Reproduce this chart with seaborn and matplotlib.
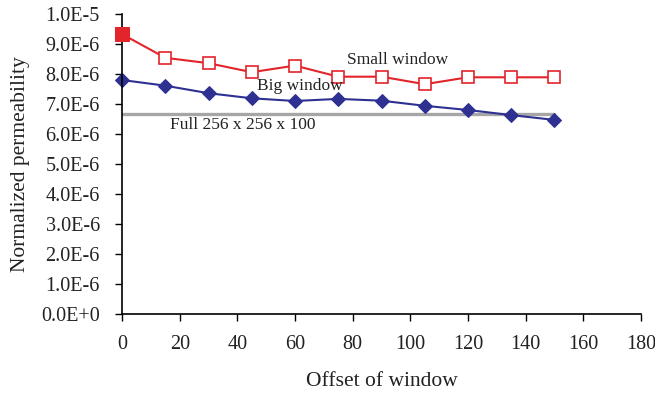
import matplotlib
matplotlib.use("Agg")
import matplotlib.pyplot as plt
from matplotlib.ticker import FuncFormatter, MultipleLocator
import seaborn as sns
import pandas as pd

# Window offsets and normalized permeability for each window size
offsets = [0, 15, 30, 45, 60, 75, 90, 105, 120, 135, 150]
small_window = [9.33e-6, 8.54e-6, 8.36e-6, 8.06e-6, 8.28e-6, 7.91e-6,
                7.91e-6, 7.66e-6, 7.89e-6, 7.89e-6, 7.89e-6]
big_window = [7.80e-6, 7.61e-6, 7.36e-6, 7.19e-6, 7.10e-6, 7.17e-6,
              7.11e-6, 6.94e-6, 6.80e-6, 6.63e-6, 6.47e-6]
full_value = 6.67e-6
full_span = [0, 150]

red = "#E2242B"
blue = "#2E3192"
grey = "#A6A6A6"
ink = "#222222"

sns.set_style("ticks")
plt.rcParams["font.family"] = ["Liberation Serif", "DejaVu Serif"]
plt.rcParams["font.size"] = 12.5

df_small = pd.DataFrame({"offset": offsets, "k": small_window})
df_big = pd.DataFrame({"offset": offsets, "k": big_window})
df_full = pd.DataFrame({"offset": full_span, "k": [full_value, full_value]})

fig = plt.figure(figsize=(6.55, 3.93), dpi=100)
ax = fig.add_axes([0.1863, 0.201, 0.7923, 0.7634])

sns.lineplot(data=df_full, x="offset", y="k", ax=ax, color=grey,
             linewidth=2.4, zorder=1)
sns.lineplot(data=df_big, x="offset", y="k", ax=ax, color=blue,
             linewidth=1.5, marker="D", markersize=7.5,
             markerfacecolor=blue, markeredgecolor=blue, zorder=2,
             clip_on=False)
sns.lineplot(data=df_small, x="offset", y="k", ax=ax, color=red,
             linewidth=1.5, marker="s", markersize=8,
             markerfacecolor="white", markeredgecolor=red,
             markeredgewidth=1.2, zorder=3, clip_on=False)
# The unshifted window is highlighted with a filled marker
sns.lineplot(data=df_small.iloc[:1], x="offset", y="k", ax=ax, color=red,
             linewidth=0, marker="s", markersize=9.5,
             markerfacecolor=red, markeredgecolor=red, zorder=4,
             clip_on=False)

ax.text(95.6, 8.45e-6, "Small window", ha="center", va="center", color=ink)
ax.text(61.6, 7.6e-6, "Big window", ha="center", va="center", color=ink)
ax.text(41.8, 6.31e-6, "Full 256 x 256 x 100", ha="center", va="center",
        color=ink)

ax.set_xlim(0, 180)
ax.set_ylim(0, 1.0e-5)
ax.xaxis.set_major_locator(MultipleLocator(20))
ax.yaxis.set_major_locator(MultipleLocator(1.0e-6))


def sci_label(v, pos):
    mant, exp = f"{v:.1E}".split("E")
    sign = exp[0]
    return f"{mant}E{sign}{int(exp[1:])}"


ax.yaxis.set_major_formatter(FuncFormatter(sci_label))
ax.tick_params(axis="both", direction="out", length=5, width=1,
               color="black", labelcolor=ink, labelsize=14.5)
ax.tick_params(axis="y", pad=11)
ax.tick_params(axis="x", pad=10)

ax.set_xlabel("Offset of window", color=ink, fontsize=15.5, labelpad=13)
ax.set_ylabel("Normalized permeability", color=ink, fontsize=15.5,
              labelpad=8)

sns.despine(ax=ax)
for side in ("left", "bottom"):
    ax.spines[side].set_color("black")
    ax.spines[side].set_linewidth(1.2)

fig.savefig("out.png", dpi=100)
